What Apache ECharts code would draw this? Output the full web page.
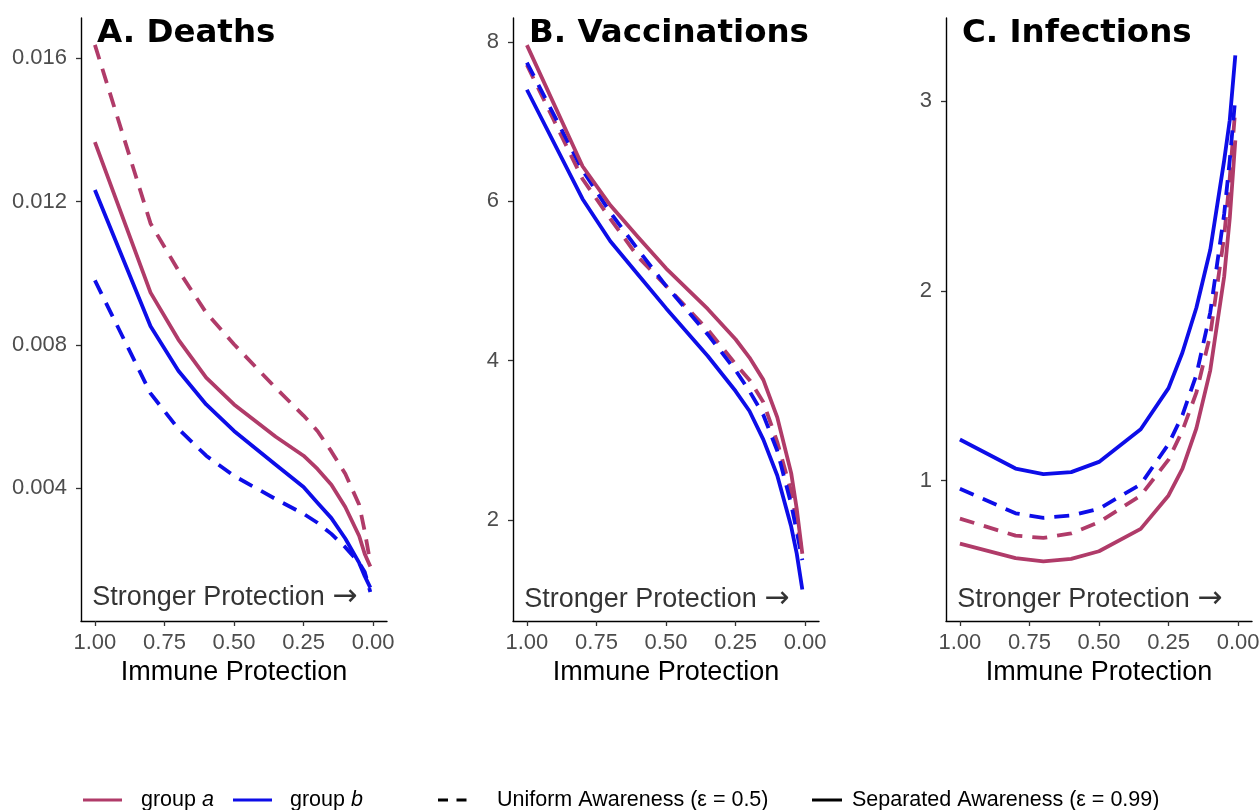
<!DOCTYPE html>
<html>
<head>
<meta charset="utf-8">
<script src="https://cdn.jsdelivr.net/npm/echarts@6/dist/echarts.min.js"></script>
<style>
  html, body { margin: 0; padding: 0; background: #ffffff; }
  #chart { width: 1260px; height: 810px; }
</style>
</head>
<body>
<div id="chart"></div>
<script>
// Immune protection levels (x), shared by every curve
const protection = [1.0, 0.8, 0.7, 0.6, 0.5, 0.35, 0.25, 0.2, 0.15, 0.1, 0.05, 0.03, 0.01];

// A. Deaths
const deathsUniformA   = [0.01637, 0.01139, 0.01008, 0.00890, 0.00802, 0.00680, 0.00603, 0.00560, 0.00503, 0.00441, 0.00354, 0.00280, 0.00192];
const deathsSeparatedA = [0.01366, 0.00946, 0.00815, 0.00709, 0.00634, 0.00544, 0.00491, 0.00454, 0.00410, 0.00348, 0.00267, 0.00217, 0.00182];
const deathsUniformB   = [0.00980, 0.00665, 0.00566, 0.00491, 0.00435, 0.00370, 0.00329, 0.00304, 0.00273, 0.00236, 0.00192, 0.00167, 0.00111];
const deathsSeparatedB = [0.01232, 0.00852, 0.00728, 0.00634, 0.00560, 0.00466, 0.00404, 0.00360, 0.00317, 0.00260, 0.00192, 0.00155, 0.00123];

// B. Vaccinations
const vaccUniformA   = [7.71, 6.28, 5.78, 5.30, 4.94, 4.39, 3.96, 3.76, 3.48, 2.98, 2.36, 1.97, 1.58];
const vaccSeparatedA = [7.96, 6.44, 5.95, 5.55, 5.16, 4.65, 4.27, 4.04, 3.76, 3.29, 2.59, 2.14, 1.58];
const vaccUniformB   = [7.74, 6.39, 5.86, 5.39, 4.94, 4.33, 3.88, 3.62, 3.32, 2.87, 2.20, 1.86, 1.50];
const vaccSeparatedB = [7.40, 6.03, 5.50, 5.08, 4.66, 4.06, 3.62, 3.37, 3.01, 2.56, 1.92, 1.58, 1.13];

// C. Infections
const infUniformA   = [0.800, 0.710, 0.698, 0.722, 0.781, 0.922, 1.111, 1.264, 1.464, 1.770, 2.289, 2.595, 2.960];
const infSeparatedA = [0.668, 0.592, 0.574, 0.588, 0.628, 0.746, 0.922, 1.064, 1.276, 1.582, 2.077, 2.383, 2.795];
const infUniformB   = [0.958, 0.828, 0.804, 0.816, 0.852, 0.981, 1.193, 1.346, 1.558, 1.888, 2.406, 2.689, 3.019];
const infSeparatedB = [1.217, 1.064, 1.035, 1.045, 1.099, 1.271, 1.488, 1.676, 1.912, 2.218, 2.689, 2.901, 3.243];

// Tick labels
const xTicks = [0, 0.25, 0.5, 0.75, 1];
const deathsTicks = [0.004, 0.008, 0.012, 0.016];
const vaccTicks = [2, 4, 6, 8];
const infTicks = [1, 2, 3];

const panelTitles = ['A. Deaths', 'B. Vaccinations', 'C. Infections'];
const annotationText = '{t|Stronger Protection }{a|\u2192}';
// height (in each panel's units) of the direction note
const annotationY = [0.00095, 1.01, 0.374];

const RED = '#b03b69';
const BLUE = '#0d0de8';
const TXT = "'Liberation Sans', Arial, Helvetica, sans-serif";

const panels = [
  { title: panelTitles[0], ticks: deathsTicks, digits: 3, yMin: 0.0003, yMax: 0.01712,
    lines: [[deathsUniformA, RED, true], [deathsUniformB, BLUE, true], [deathsSeparatedA, RED, false], [deathsSeparatedB, BLUE, false]] },
  { title: panelTitles[1], ticks: vaccTicks, digits: 0, yMin: 0.735, yMax: 8.30,
    lines: [[vaccUniformA, RED, true], [vaccUniformB, BLUE, true], [vaccSeparatedA, RED, false], [vaccSeparatedB, BLUE, false]] },
  { title: panelTitles[2], ticks: infTicks, digits: 0, yMin: 0.26, yMax: 3.44,
    lines: [[infUniformA, RED, true], [infUniformB, BLUE, true], [infSeparatedA, RED, false], [infSeparatedB, BLUE, false]] }
];

const gridLefts = [81, 513, 946];
const grids = [], xAxes = [], yAxes = [], series = [], titles = [];

panels.forEach((p, i) => {
  grids.push({ left: gridLefts[i], top: 18, width: 306, height: 603, containLabel: false, outerBoundsMode: 'none' });
  xAxes.push({
    type: 'value', gridIndex: i, inverse: true, min: -0.05, max: 1.05,
    name: 'Immune Protection', nameLocation: 'middle', nameGap: 36,
    nameTextStyle: { fontSize: 27, color: '#000', fontFamily: TXT },
    axisLine: { show: true, onZero: false, lineStyle: { color: '#000', width: 1.4 } },
    axisTick: { show: true, length: 5, customValues: xTicks, lineStyle: { color: '#333', width: 1.3 } },
    axisLabel: { show: true, customValues: xTicks, margin: 11, fontSize: 22, color: '#4d4d4d', fontFamily: TXT,
      formatter: v => v.toFixed(2) },
    splitLine: { show: false }
  });
  yAxes.push({
    type: 'value', gridIndex: i, min: p.yMin, max: p.yMax,
    axisLine: { show: true, onZero: false, lineStyle: { color: '#000', width: 1.4 } },
    axisTick: { show: true, length: 5, customValues: p.ticks, lineStyle: { color: '#333', width: 1.3 } },
    axisLabel: { show: true, customValues: p.ticks, margin: 14, fontSize: 22, color: '#4d4d4d', fontFamily: TXT,
      formatter: v => v.toFixed(p.digits) },
    splitLine: { show: false }
  });
  p.lines.forEach(([vals, color, dashed]) => {
    series.push({
      type: 'line', xAxisIndex: i, yAxisIndex: i, symbol: 'none', silent: true,
      data: protection.map((x, k) => [x, vals[k]]),
      lineStyle: { color, width: 3.8, type: dashed ? [15, 10] : 'solid', join: 'round', cap: 'butt' },
      z: dashed ? 2 : 3
    });
  });
  series.push({
    type: 'scatter', xAxisIndex: i, yAxisIndex: i, symbolSize: 0, silent: true,
    data: [[1.01, annotationY[i]]],
    label: { show: true, position: 'right', distance: 0, formatter: annotationText,
      rich: {
        t: { fontSize: 27, color: '#000', fontFamily: TXT },
        a: { fontSize: 30, color: '#000', fontFamily: "'DejaVu Sans', sans-serif" }
      } }
  });
  titles.push({
    text: p.title, left: gridLefts[i] + 16, top: 17, padding: 0,
    textStyle: { fontSize: 32.5, fontWeight: 'bold', color: '#000', fontFamily: "'DejaVu Sans', sans-serif" }
  });
});

// Legend drawn as keys + labels along the bottom
const legendY = 800;
const legendFont = { fontSize: 21.5, fill: '#000', fontFamily: TXT };
function key(x1, x2, color, dash) {
  return { type: 'line', shape: { x1, y1: legendY, x2, y2: legendY },
    style: { stroke: color, lineWidth: 3, lineDash: dash || null } };
}
function label(x, text, rich) {
  return { type: 'text', x, y: legendY,
    style: Object.assign({ text, verticalAlign: 'middle', align: 'left', rich }, legendFont) };
}
const italic = { it: { fontStyle: 'italic', fontSize: 21.5, fontFamily: TXT, fill: '#000' } };
const graphic = [
  key(83, 122, RED), label(141, 'group {it|a}', italic),
  key(233, 272, BLUE), label(290, 'group {it|b}', italic),
  key(438, 467, '#000', [10, 8.5]), label(497, 'Uniform Awareness (\u03b5 = 0.5)'),
  key(812, 842, '#000'), label(852, 'Separated Awareness (\u03b5 = 0.99)')
];

const chart = echarts.init(document.getElementById('chart'), null, { renderer: 'canvas' });
chart.setOption({
  backgroundColor: '#ffffff',
  animation: false,
  title: titles,
  grid: grids,
  xAxis: xAxes,
  yAxis: yAxes,
  series,
  graphic
});
</script>
</body>
</html>
